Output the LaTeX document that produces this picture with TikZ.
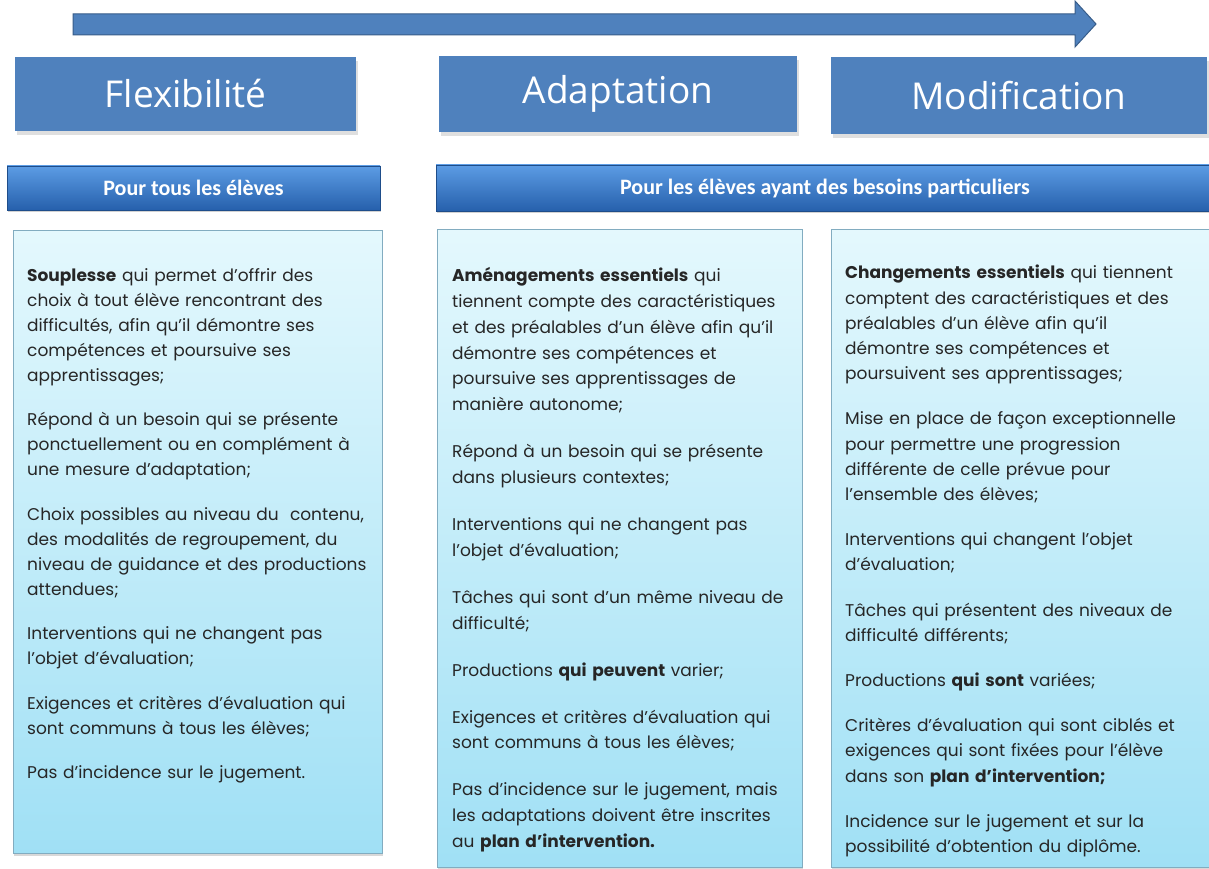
\documentclass[tikz,border=0pt]{standalone}
\usepackage{fontspec}
\setmainfont{Poppins}
\newfontfamily\titlefont{Open Sans}
\newfontfamily\barfont{Carlito}
\usetikzlibrary{shadows}
\definecolor{tblue}{RGB}{79,129,189}
\definecolor{tblueline}{RGB}{56,93,138}
\definecolor{bartop}{RGB}{92,156,228}
\definecolor{barbot}{RGB}{38,96,172}
\definecolor{boxtop}{RGB}{228,248,253}
\definecolor{boxbot}{RGB}{160,224,245}
\definecolor{boxline}{RGB}{130,172,192}
\definecolor{txt}{RGB}{38,38,38}
\tikzset{
  titlebox/.style={rectangle, fill=tblue, draw=none, text=white, inner sep=0pt,
    font=\titlefont\fontsize{37}{42}\selectfont,
    drop shadow={opacity=0.25, shadow xshift=2pt, shadow yshift=-4pt}},
  barbox/.style={rectangle, top color=bartop, bottom color=barbot, draw=barbot!80!black,
    line width=0.6pt, text=white, inner sep=0pt,
    font=\barfont\bfseries\fontsize{22}{24}\selectfont,
    drop shadow={opacity=0.35, shadow xshift=1pt, shadow yshift=-2pt}},
  contentbox/.style={rectangle, top color=boxtop, bottom color=boxbot, draw=boxline,
    line width=1pt, inner sep=0pt,
    drop shadow={opacity=0.3, shadow xshift=1pt, shadow yshift=-3pt}},
  bodytext/.style={anchor=north west, inner sep=0pt, align=left, text=txt,
    text width=370pt, font=\fontsize{17}{25}\selectfont},
  bigarrow/.style={fill=tblue, draw=tblueline, line width=1pt}
}
\newcommand\pgap[1]{\\[#1pt]}
\begin{document}
\begin{tikzpicture}[x=1pt,y=-1pt]
\useasboundingbox[fill=white] (0,0) rectangle (1209,869);
% progression arrow
\draw[bigarrow] (73,14) -- (1075,14) -- (1075,1) -- (1096,24) -- (1075,47) -- (1075,35) -- (73,35) -- cycle;
% title boxes
\node[titlebox, minimum width=341pt, minimum height=74pt] (flex) at (185.5,94) {Flexibilité};
\node[titlebox, minimum width=358pt, minimum height=76pt] (adap) at (618,94) {Adaptation};
\node[titlebox, minimum width=376pt, minimum height=77pt] (modi) at (1019,96) {Modification};
% sub-header bars
\node[barbox, minimum width=373pt, minimum height=44pt] (bar1) at (193.5,188) {Pour tous les élèves};
\node[barbox, minimum width=778pt, minimum height=46pt] (bar2) at (825,188) {Pour les élèves ayant des besoins particuliers};
% content boxes
\node[contentbox, minimum width=369pt, minimum height=623pt] (box1) at (197.5,541.5) {};
\node[contentbox, minimum width=365pt, minimum height=638pt] (box2) at (619.5,548) {};
\node[contentbox, minimum width=380pt, minimum height=638pt] (box3) at (1021,548) {};
% texts
\node[bodytext] (t1) at (27,268) {\textbf{Souplesse} qui permet d’offrir des\\
choix à tout élève rencontrant des\\
difficultés, afin qu’il démontre ses\\
compétences et poursuive ses\\
apprentissages;\pgap{19.5}
Répond à un besoin qui se présente\\
ponctuellement ou en complément à\\
une mesure d’adaptation;\pgap{19.5}
Choix possibles au niveau du~ contenu,\\
des modalités de regroupement, du\\
niveau de guidance et des productions\\
attendues;\pgap{19.5}
Interventions qui ne changent pas\\
l’objet d’évaluation;\pgap{19.5}
Exigences et critères d’évaluation qui\\
sont communs à tous les élèves;\pgap{19.5}
Pas d’incidence sur le jugement.};
\node[bodytext, font=\fontsize{17}{25.9}\selectfont] (t2) at (452,267) {\textbf{Aménagements essentiels} qui\\
tiennent compte des caractéristiques\\
et des préalables d’un élève afin qu’il\\
démontre ses compétences et\\
poursuive ses apprentissages de\\
manière autonome;\pgap{21}
Répond à un besoin qui se présente\\
dans plusieurs contextes;\pgap{21}
Interventions qui ne changent pas\\
l’objet d’évaluation;\pgap{21}
Tâches qui sont d’un même niveau de\\
difficulté;\pgap{21}
Productions \textbf{qui peuvent} varier;\pgap{21}
Exigences et critères d’évaluation qui\\
sont communs à tous les élèves;\pgap{21}
Pas d’incidence sur le jugement, mais\\
les adaptations doivent être inscrites\\
au \textbf{plan d'intervention.}};
\node[bodytext, font=\fontsize{17}{25.2}\selectfont] (t3) at (845,265) {\textbf{Changements essentiels} qui tiennent\\
comptent des caractéristiques et des\\
préalables d’un élève afin qu’il\\
démontre ses compétences et\\
poursuivent ses apprentissages;\pgap{20}
Mise en place de façon exceptionnelle\\
pour permettre une progression\\
différente de celle prévue pour\\
l’ensemble des élèves;\pgap{20}
Interventions qui changent l’objet\\
d’évaluation;\pgap{20}
Tâches qui présentent des niveaux de\\
difficulté différents;\pgap{20}
Productions \textbf{qui sont} variées;\pgap{20}
Critères d’évaluation qui sont ciblés et\\
exigences qui sont fixées pour l’élève\\
dans son \textbf{plan d'intervention;}\pgap{20}
Incidence sur le jugement et sur la\\
possibilité d’obtention du diplôme.};
\end{tikzpicture}
\end{document}
